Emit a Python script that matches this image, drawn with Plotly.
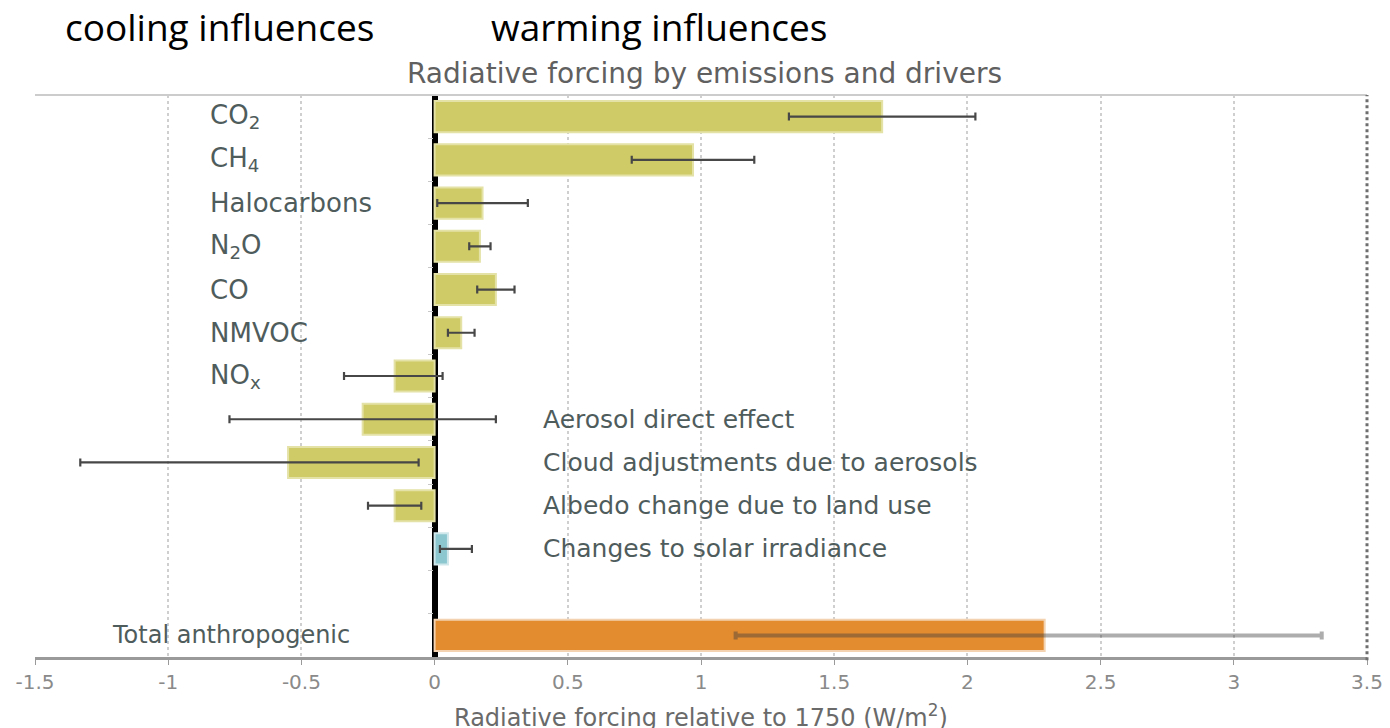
import plotly.graph_objects as go

# Forcing agents, top to bottom (the blank entry leaves a gap before the total)
categories = ["CO2", "CH4", "Halocarbons", "N2O", "CO", "NMVOC", "NOx",
              "Aerosol direct effect", "Cloud adjustments due to aerosols",
              "Albedo change due to land use", "Changes to solar irradiance",
              " ", "Total anthropogenic"]
display_names = ["CO<sub>2</sub>", "CH<sub>4</sub>", "Halocarbons", "N<sub>2</sub>O", "CO",
                 "NMVOC", "NO<sub>x</sub>", "Aerosol direct effect",
                 "Cloud adjustments due to aerosols", "Albedo change due to land use",
                 "Changes to solar irradiance", "", "Total anthropogenic"]

# Best estimate and uncertainty range (W/m2)
forcing = [1.68, 0.97, 0.18, 0.17, 0.23, 0.10, -0.15, -0.27, -0.55, -0.15, 0.05, None, 2.29]
low     = [1.33, 0.74, 0.01, 0.13, 0.16, 0.05, -0.34, -0.77, -1.33, -0.25, 0.02, None, 1.13]
high    = [2.03, 1.20, 0.35, 0.21, 0.30, 0.15, 0.03, 0.23, -0.06, -0.05, 0.14, None, 3.33]

x_ticks = [-1.5, -1, -0.5, 0, 0.5, 1, 1.5, 2, 2.5, 3, 3.5]
x_tick_labels = ["-1.5", "-1", "-0.5", "0", "0.5", "1", "1.5", "2", "2.5", "3", "3.5"]

OLIVE = "#cfcb66"
OLIVE_EDGE = "#e4e2a6"
SOLAR = "#8cc7cf"
SOLAR_EDGE = "#cfe7ea"
ORANGE = "#e38b2f"
LABEL = "#4f5c5c"
FONT = "DejaVu Sans"

n_agents = 11
agent_colors = [OLIVE] * 10 + [SOLAR]
agent_edges = [OLIVE_EDGE] * 10 + [SOLAR_EDGE]

# Plot-area geometry in pixels, used to place the free-floating texts
PL, PR, PT, PB = 35, 1367, 95, 657
PW, PH = PR - PL, PB - PT


def px(x):
    return (x - PL) / PW


def py(y):
    return (PB - y) / PH


fig = go.Figure()

fig.add_trace(go.Bar(
    y=categories[:n_agents], x=forcing[:n_agents], orientation="h",
    width=0.72,
    marker=dict(color=agent_colors, line=dict(color=agent_edges, width=2)),
    error_x=dict(type="data", symmetric=False,
                 array=[h - v for h, v in zip(high[:n_agents], forcing[:n_agents])],
                 arrayminus=[v - l for v, l in zip(forcing[:n_agents], low[:n_agents])],
                 color="#474747", thickness=2.2, width=4),
    showlegend=False, hoverinfo="x+y",
))

fig.add_trace(go.Bar(
    y=categories[-1:], x=forcing[-1:], orientation="h",
    width=0.72,
    marker=dict(color=ORANGE, line=dict(color="#f2d2b0", width=2)),
    error_x=dict(type="data", symmetric=False,
                 array=[high[-1] - forcing[-1]],
                 arrayminus=[forcing[-1] - low[-1]],
                 color="rgba(60,60,60,0.42)", thickness=4, width=4),
    showlegend=False, hoverinfo="x+y",
))

# Labels: gases to the left of the zero line, other drivers to the right
for i, (cat, name) in enumerate(zip(categories, display_names)):
    if not name:
        continue
    if i < 7:
        fig.add_annotation(x=-0.85, y=cat, xref="x", yref="y", text=name,
                           xanchor="left", showarrow=False,
                           font=dict(family=FONT, size=26, color=LABEL))
    elif i < n_agents:
        fig.add_annotation(x=0.4, y=cat, xref="x", yref="y", text=name,
                           xanchor="left", showarrow=False,
                           font=dict(family=FONT, size=25, color=LABEL))
    else:
        fig.add_annotation(x=-1.22, y=cat, xref="x", yref="y", text=name,
                           xanchor="left", showarrow=False,
                           font=dict(family=FONT, size=24, color=LABEL))

# Headings above the chart
fig.add_annotation(x=px(219), y=py(27), xref="paper", yref="paper",
                   text="cooling influences", showarrow=False, xanchor="center", yanchor="middle",
                   font=dict(family="Open Sans", size=37, color="black"))
fig.add_annotation(x=px(659), y=py(27), xref="paper", yref="paper",
                   text="warming influences", showarrow=False, xanchor="center", yanchor="middle",
                   font=dict(family="Open Sans", size=37, color="black"))
fig.add_annotation(x=px(704), y=py(73), xref="paper", yref="paper",
                   text="Radiative forcing by emissions and drivers", showarrow=False,
                   xanchor="center", yanchor="middle",
                   font=dict(family=FONT, size=28, color="#606060"))
fig.add_annotation(x=px(701), y=py(716), xref="paper", yref="paper",
                   text="Radiative forcing relative to 1750 (W/m<sup>2</sup>)", showarrow=False,
                   xanchor="center", yanchor="middle",
                   font=dict(family=FONT, size=24, color="#6a6a6a"))

# Frame: light top edge and darker dashed right edge
fig.add_shape(type="line", xref="paper", yref="paper", x0=0, x1=1, y0=1, y1=1,
              line=dict(color="#cccccc", width=2))
fig.add_shape(type="line", xref="paper", yref="paper", x0=1, x1=1, y0=-0.006, y1=1,
              line=dict(color="#6e6e6e", width=3, dash="dot"))

fig.update_layout(
    width=1390, height=728,
    margin=dict(l=PL, r=1390 - PR, t=PT, b=728 - PB, autoexpand=False),
    paper_bgcolor="white", plot_bgcolor="white",
    bargap=0.28,
    xaxis=dict(
        range=[-1.5, 3.5], tickvals=x_ticks, ticktext=x_tick_labels,
        automargin=False,
        showgrid=True, gridcolor="#cfcfcf", griddash="dot", gridwidth=1.5,
        zeroline=True, zerolinecolor="black", zerolinewidth=6,
        showline=True, linecolor="#9a9a9a", linewidth=3,
        ticks="outside", ticklen=5, tickcolor="#9a9a9a",
        tickfont=dict(family=FONT, size=20, color="#8a8a8a"),
        fixedrange=True,
    ),
    yaxis=dict(
        categoryorder="array", categoryarray=categories, autorange="reversed",
        anchor="free", position=px(432.5), automargin=False,
        showticklabels=False, showgrid=False, zeroline=False, showline=False,
        ticks="outside", ticklen=5, tickcolor="#c8c8c8", tickson="boundaries",
        fixedrange=True,
    ),
)

fig.write_html("out.html")
